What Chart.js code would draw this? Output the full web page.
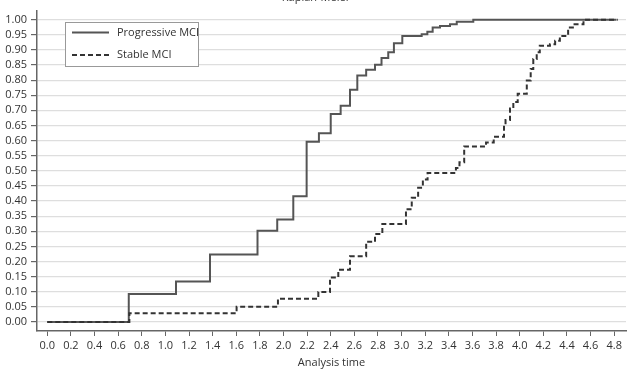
<!DOCTYPE html>
<html>
  <head>
    <meta charset="UTF-8" />
    <title>Kaplan-Meier</title>
    <script src="https://cdn.jsdelivr.net/npm/chart.js"></script>
    <style>
      body { margin: 0; padding: 0; background: #fff; }
      canvas { display: block; }
    </style>
  </head>
  <body>
    <canvas id="km" width="629" height="369"></canvas>
    <script>
      const chartTitle = 'Kaplan-Meier';
      const xTitle = 'Analysis time';
      const seriesNames = ['Progressive MCI', 'Stable MCI'];

      // step points: time of event, cumulative value after it
      const progTime  = [0, 0.69, 1.09, 1.378, 1.78, 1.947, 2.083, 2.196, 2.30, 2.40, 2.484, 2.563, 2.625, 2.70, 2.775, 2.83, 2.887, 2.935, 3.006, 3.17, 3.218, 3.263, 3.325, 3.41, 3.467, 3.607, 4.82];
      const progValue = [0, 0.092, 0.134, 0.223, 0.302, 0.339, 0.416, 0.596, 0.624, 0.688, 0.715, 0.768, 0.815, 0.834, 0.851, 0.873, 0.892, 0.922, 0.946, 0.952, 0.960, 0.974, 0.979, 0.985, 0.993, 1.0, 1.0];

      const stableTime  = [0, 0.695, 1.603, 1.953, 2.295, 2.394, 2.464, 2.563, 2.70, 2.775, 2.837, 3.037, 3.086, 3.14, 3.18, 3.22, 3.46, 3.49, 3.53, 3.715, 3.78, 3.867, 3.88, 3.918, 3.946, 3.983, 4.06, 4.093, 4.115, 4.144, 4.17, 4.256, 4.30, 4.34, 4.41, 4.45, 4.54, 4.83];
      const stableValue = [0, 0.0285, 0.050, 0.077, 0.099, 0.147, 0.173, 0.217, 0.265, 0.291, 0.324, 0.373, 0.411, 0.444, 0.471, 0.493, 0.509, 0.528, 0.580, 0.594, 0.613, 0.651, 0.668, 0.706, 0.728, 0.755, 0.799, 0.837, 0.870, 0.892, 0.914, 0.919, 0.930, 0.946, 0.974, 0.985, 1.0, 1.0];

      const xTicks = [0.0, 0.2, 0.4, 0.6, 0.8, 1.0, 1.2, 1.4, 1.6, 1.8, 2.0, 2.2, 2.4, 2.6, 2.8, 3.0, 3.2, 3.4, 3.6, 3.8, 4.0, 4.2, 4.4, 4.6, 4.8];
      const yTicks = [0.00, 0.05, 0.10, 0.15, 0.20, 0.25, 0.30, 0.35, 0.40, 0.45, 0.50, 0.55, 0.60, 0.65, 0.70, 0.75, 0.80, 0.85, 0.90, 0.95, 1.00];

      const FONT = "'Open Sans', 'Noto Sans', sans-serif";
      const TEXT = '#333';

      function pts(t, v) {
        return t.map((x, i) => ({ x: x, y: v[i] }));
      }

      // title sits mostly above the canvas edge, and the boxed legend inside the plot
      const extras = {
        id: 'extras',
        afterDraw(chart) {
          const ctx = chart.ctx;
          ctx.save();
          ctx.fillStyle = TEXT;
          ctx.font = '11px ' + FONT;
          ctx.textAlign = 'center';
          ctx.textBaseline = 'alphabetic';
          ctx.fillText(chartTitle, 316, 1);

          const bx = 65.5, by = 22.5, bw = 133, bh = 44;
          ctx.fillStyle = '#fff';
          ctx.fillRect(bx, by, bw, bh);
          ctx.strokeStyle = '#999';
          ctx.lineWidth = 1;
          ctx.strokeRect(bx, by, bw, bh);

          ctx.textAlign = 'left';
          ctx.textBaseline = 'middle';
          chart.data.datasets.forEach((ds, i) => {
            const y = 32.5 + i * 22.5;
            ctx.strokeStyle = ds.borderColor;
            ctx.lineWidth = ds.borderWidth;
            ctx.setLineDash(ds.borderDash || []);
            ctx.beginPath();
            ctx.moveTo(72, y);
            ctx.lineTo(109, y);
            ctx.stroke();
            ctx.setLineDash([]);
            ctx.fillStyle = TEXT;
            ctx.fillText(ds.label, 117, y);
          });
          ctx.restore();
        }
      };

      new Chart(document.getElementById('km'), {
        type: 'line',
        data: {
          datasets: [
            {
              label: seriesNames[0],
              data: pts(progTime, progValue),
              stepped: true,
              borderColor: '#555',
              borderWidth: 2,
              pointRadius: 0,
              fill: false,
              order: 1
            },
            {
              label: seriesNames[1],
              data: pts(stableTime, stableValue),
              stepped: true,
              borderColor: '#333',
              borderWidth: 2,
              borderDash: [5, 3],
              pointRadius: 0,
              fill: false,
              order: 0
            }
          ]
        },
        options: {
          responsive: false,
          animation: false,
          layout: { padding: { top: 8, right: 3, left: 0, bottom: 0 } },
          plugins: {
            legend: { display: false },
            tooltip: { enabled: false }
          },
          scales: {
            x: {
              type: 'linear',
              min: -0.087,
              max: 4.9,
              afterBuildTicks: s => { s.ticks = xTicks.map(v => ({ value: v })); },
              afterFit: s => { s.height = 38; },
              grid: { drawOnChartArea: false, tickLength: 5, tickColor: '#666' },
              border: { color: '#666', width: 1.5 },
              ticks: {
                padding: 3,
                color: TEXT,
                font: { family: FONT, size: 11 },
                callback: v => v.toFixed(1),
                maxRotation: 0,
                autoSkip: false
              },
              title: {
                display: true,
                text: xTitle,
                color: TEXT,
                font: { family: FONT, size: 11 },
                padding: { top: 0, bottom: 0 }
              }
            },
            y: {
              type: 'linear',
              min: -0.03,
              max: 1.03,
              afterBuildTicks: s => { s.ticks = yTicks.map(v => ({ value: v })); },
              afterFit: s => { s.width = 37; },
              grid: { color: '#dedede', lineWidth: 1.2, tickLength: 6, tickColor: '#666' },
              border: { color: '#666', width: 1.5 },
              ticks: {
                padding: 4,
                color: TEXT,
                font: { family: FONT, size: 11 },
                callback: v => v.toFixed(2),
                autoSkip: false
              }
            }
          }
        },
        plugins: [extras]
      });
    </script>
  </body>
</html>
